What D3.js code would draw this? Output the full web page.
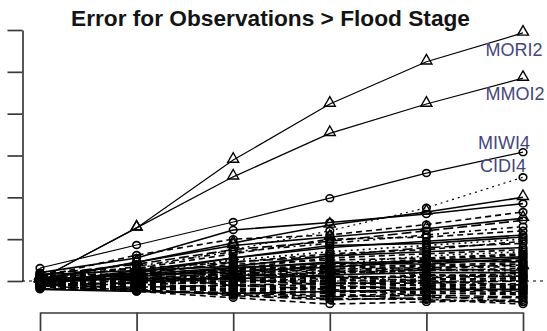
<!DOCTYPE html>
<html>
<head>
<meta charset="utf-8">
<script src="https://cdn.jsdelivr.net/npm/d3@7"></script>
<style>
  html, body { margin: 0; padding: 0; background: #fff; }
  svg { display: block; }
</style>
</head>
<body>
<svg id="chart" width="547" height="331"></svg>
<script>
// Forecast lead times (hours) and the error axis ticks (ft)
const leadTimes = [6, 12, 18, 24, 30, 36];
const errorTicks = [0, 1, 2, 3, 4, 5, 6];

// Station ids: only the outliers are labelled on the chart
const stations = ["MORI2", "MMOI2", "MIWI4", "CIDI4"];

// Plot symbol per station: 1 = open circle, 2 = open triangle
const symbols = [
  2, 2, 1, 1, 2, 1, 1, 2, 1, 1, 1, 1, 1, 1,
  1, 1, 1, 1, 2, 1, 1, 1, 1, 1, 1, 1, 1, 1, 1, 1, 1, 1, 1,
  1, 1, 1, 1, 1, 1, 1,
  1, 1, 1, 1, 1, 1, 1, 1, 1, 1, 1, 1, 1, 1, 1, 1, 1, 1, 1, 1
];

// Line type per station (R lty numbering)
const lineTypes = [
  1, 1, 1, 3, 1, 1, 2, 1, 5, 4, 2, 1, 3, 5,
  2, 1, 5, 2, 4, 2, 1, 3, 2, 5, 2, 1, 2, 5, 2, 2, 4, 1, 2,
  6, 3, 2, 5, 2, 1, 2,
  2, 5, 2, 1, 2, 5, 2, 2, 4, 2, 5, 2, 1, 2, 2, 5, 2, 6, 2, 2
];

// Mean error (ft) at each lead time, one row per station
const errors = [
  [0.05, 1.27, 2.89, 4.23, 5.24, 5.93],
  [0.05, 1.27, 2.49, 3.53, 4.23, 4.85],
  [0.31, 0.86, 1.41, 1.98, 2.58, 3.08],
  [0.10, 0.30, 0.75, 1.20, 1.75, 2.48],
  [0.02, 0.45, 0.91, 1.34, 1.65, 2.00],
  [0.20, 0.55, 1.22, 1.40, 1.60, 1.85],
  [0.10, 0.62, 1.00, 1.10, 1.35, 1.65],
  [0.05, 0.45, 0.85, 1.05, 1.25, 1.50],
  [0.15, 0.40, 0.75, 0.95, 1.20, 1.45],
  [0.00, 0.35, 0.70, 0.90, 1.10, 1.30],
  [0.08, 0.30, 0.65, 1.00, 1.05, 1.20],
  [-0.05, 0.25, 0.55, 0.80, 0.95, 1.10],
  [0.10, 0.20, 0.50, 0.70, 0.85, 1.00],
  [0.02, 0.15, 0.45, 0.60, 0.80, 0.90],
  [0.05, 0.20, 0.40, 0.50, 0.55, 0.65],
  [-0.05, 0.10, 0.30, 0.45, 0.40, 0.55],
  [0.00, 0.15, 0.25, 0.35, 0.45, 0.50],
  [-0.10, 0.05, 0.20, 0.30, 0.35, 0.40],
  [0.10, 0.00, 0.15, 0.25, 0.30, 0.35],
  [-0.15, -0.05, 0.10, 0.20, 0.25, 0.30],
  [0.05, 0.05, 0.05, 0.15, 0.20, 0.20],
  [-0.05, -0.10, 0.00, 0.05, 0.10, 0.15],
  [0.00, -0.05, -0.05, 0.00, 0.05, 0.05],
  [-0.10, -0.15, -0.10, -0.05, -0.05, 0.00],
  [-0.15, -0.20, -0.20, -0.15, -0.10, -0.10],
  [-0.20, -0.25, -0.30, -0.25, -0.20, -0.20],
  [-0.10, -0.15, -0.25, -0.35, -0.30, -0.30],
  [-0.05, -0.20, -0.35, -0.45, -0.40, -0.40],
  [-0.15, -0.25, -0.40, -0.55, -0.50, -0.45],
  [0.00, -0.10, -0.20, -0.30, -0.45, -0.55],
  [0.05, 0.10, -0.10, -0.20, -0.35, -0.50],
  [0.15, 0.25, 0.35, 0.60, 0.70, 0.80],
  [0.20, 0.30, 0.45, 0.65, 0.75, 0.95],
  [0.00, 0.05, 0.15, 0.10, 0.00, -0.10],
  [-0.05, 0.00, 0.10, 0.40, 0.60, 0.70],
  [0.10, 0.15, 0.20, 0.05, -0.05, -0.15],
  [-0.10, -0.05, 0.05, -0.10, -0.20, -0.25],
  [0.05, 0.00, -0.05, 0.25, 0.15, 0.10],
  [0.00, 0.20, 0.55, 0.85, 0.90, 1.05],
  [-0.05, 0.10, 0.30, 0.55, 0.65, 0.75],
  [-0.08, -0.12, -0.18, -0.22, -0.28, -0.33],
  [0.03, 0.08, 0.18, 0.28, 0.32, 0.38],
  [-0.12, -0.08, -0.02, 0.08, 0.12, 0.18],
  [0.06, 0.12, 0.22, 0.33, 0.48, 0.58],
  [-0.02, -0.08, -0.14, -0.08, 0.02, 0.08],
  [-0.18, -0.22, -0.28, -0.38, -0.34, -0.38],
  [0.12, 0.18, 0.28, 0.38, 0.52, 0.62],
  [-0.06, -0.02, 0.04, -0.02, -0.12, -0.18],
  [0.02, 0.04, 0.12, 0.18, 0.26, 0.24],
  [-0.04, -0.16, -0.22, -0.28, -0.24, -0.28],
  [0.08, 0.02, 0.08, 0.12, 0.08, 0.12],
  [-0.14, -0.18, -0.12, -0.18, -0.16, -0.22],
  [0.04, 0.16, 0.32, 0.42, 0.48, 0.46],
  [-0.02, 0.02, -0.02, 0.02, -0.02, 0.02],
  [0.14, 0.08, 0.02, -0.06, -0.10, -0.06],
  [-0.08, -0.04, 0.12, 0.22, 0.28, 0.26],
  [0.00, 0.06, 0.08, 0.06, 0.14, 0.10],
  [-0.12, -0.22, -0.32, -0.42, -0.44, -0.50],
  [0.06, -0.02, -0.08, -0.14, -0.18, -0.14],
  [-0.04, 0.12, 0.26, 0.34, 0.38, 0.44]
];

const titleText = "Error for Observations > Flood Stage";

// ---- drawing ----
const svg = d3.select("#chart");

const x = d3.scaleLinear().domain([leadTimes[0], leadTimes[leadTimes.length - 1]]).range([40, 523]);
const y = d3.scaleLinear().domain([0, 6]).range([281, 30]);

// R-style dash patterns for lty 1..6
const dashFor = {
  1: null,
  2: "6,4",
  3: "2,4",
  4: "2,4,6,4",
  5: "10,4",
  6: "3,3,9,3"
};

// Axes (tick labels fall outside the drawing area)
const axisColor = "#3a3a3a";
const yAxis = svg.append("g")
  .attr("transform", "translate(22.5,0)")
  .call(d3.axisLeft(y).tickValues(errorTicks).tickSize(15).tickSizeOuter(0).tickFormat(""));
const xAxis = svg.append("g")
  .attr("transform", "translate(0,312.5)")
  .call(d3.axisBottom(x).tickValues(leadTimes).tickSize(22).tickSizeOuter(0).tickFormat(""));
[yAxis, xAxis].forEach(g => {
  g.selectAll("path, line").attr("stroke", axisColor).attr("stroke-width", 1.7);
});

// Zero-error reference line
svg.append("line")
  .attr("x1", 22).attr("x2", 547)
  .attr("y1", y(0)).attr("y2", y(0))
  .attr("stroke", "#000").attr("stroke-width", 1.2)
  .attr("stroke-dasharray", "3,4");

const line = d3.line()
  .x((d, i) => x(leadTimes[i]))
  .y(d => y(d));

const series = errors.map((vals, i) => ({
  vals, name: stations[i] || "", pch: symbols[i], lty: lineTypes[i]
}));

// Lines: draw from the back so the labelled stations sit on top
const gLines = svg.append("g");
series.slice().reverse().forEach(s => {
  gLines.append("path")
    .attr("d", line(s.vals))
    .attr("fill", "none")
    .attr("stroke", "#000")
    .attr("stroke-width", s.name ? 1.2 : 1.6)
    .attr("stroke-dasharray", dashFor[s.lty]);
});

// Markers
const tri = d3.symbol().type(d3.symbolTriangle).size(52);
const gPts = svg.append("g");
series.slice().reverse().forEach(s => {
  s.vals.forEach((v, i) => {
    if (s.pch === 2) {
      gPts.append("path")
        .attr("d", tri())
        .attr("transform", `translate(${x(leadTimes[i])},${y(v) - 1})`)
        .attr("fill", "none").attr("stroke", "#000").attr("stroke-width", 1.4);
    } else {
      gPts.append("ellipse")
        .attr("cx", x(leadTimes[i])).attr("cy", y(v))
        .attr("rx", 3.8).attr("ry", 3.4)
        .attr("fill", "none").attr("stroke", "#000").attr("stroke-width", 1.6);
    }
  });
});

// Station labels next to the last lead time
const labelNudge = {
  MORI2: [-9, 23],
  MMOI2: [-8, 22],
  MIWI4: [-19, -3],
  CIDI4: [-20, -5]
};
series.filter(s => s.name).forEach(s => {
  const [dx, dy] = labelNudge[s.name];
  svg.append("text")
    .attr("x", x(leadTimes[leadTimes.length - 1]) + dx)
    .attr("y", y(s.vals[s.vals.length - 1]) + dy)
    .attr("text-anchor", "middle")
    .attr("font-family", "Liberation Sans, Arial, sans-serif")
    .attr("font-size", 18)
    .attr("fill", "#46467e")
    .text(s.name);
});

// Title
svg.append("text")
  .attr("x", 270.5).attr("y", 26)
  .attr("text-anchor", "middle")
  .attr("font-family", "Liberation Sans, Arial, sans-serif")
  .attr("font-weight", "bold")
  .attr("font-size", 22)
  .attr("textLength", 399)
  .attr("lengthAdjust", "spacingAndGlyphs")
  .attr("fill", "#141414")
  .text(titleText);
</script>
</body>
</html>
